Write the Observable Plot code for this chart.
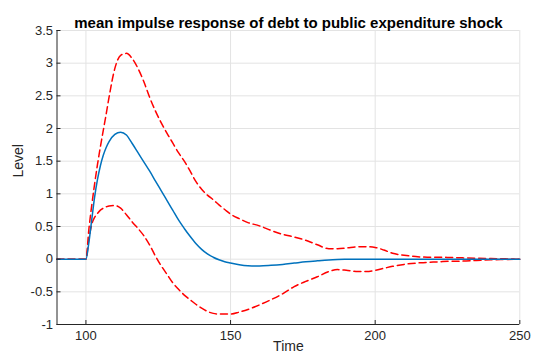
<!DOCTYPE html>
<html>
<head>
<meta charset="utf-8">
<script src="https://cdn.jsdelivr.net/npm/d3@7"></script>
<script src="https://cdn.jsdelivr.net/npm/@observablehq/plot@0.6"></script>
<style>
  html, body { margin: 0; padding: 0; background: #fff; }
  #chart { width: 534px; height: 362px; }
</style>
</head>
<body>
<div id="chart"></div>
<script>
// Impulse response of debt to a public expenditure shock (mean and bands)
const time = [90, 100, 101, 102, 103, 104, 105, 106, 107, 108, 110, 112, 114, 116, 118, 120, 122, 124, 126, 128, 130,
  132, 134, 136, 138, 140, 142, 144, 146, 148, 150, 153, 156, 160, 164, 168, 172, 176, 180, 184, 187,
  190, 194, 197, 200, 203, 206, 210, 214, 218, 222, 226, 230, 235, 240, 245, 250];
const meanResp = [0, 0, 0.25, 0.6, 0.95, 1.22, 1.43, 1.59, 1.71, 1.8, 1.91, 1.944, 1.9, 1.77, 1.63, 1.49, 1.35, 1.2, 1.05, 0.9, 0.75,
  0.6, 0.47, 0.35, 0.24, 0.15, 0.08, 0.03, -0.01, -0.04, -0.06, -0.085, -0.1, -0.105, -0.095, -0.08, -0.06, -0.04, -0.025, -0.012, -0.006,
  -0.002, 0, 0, 0, 0, 0, 0, 0, 0, 0, 0, 0, 0, 0, 0, 0];
const upperBand = [0, 0, 0.45, 0.82, 1.15, 1.45, 1.72, 1.97, 2.22, 2.48, 2.92, 3.12, 3.15, 3.07, 2.92, 2.72, 2.48, 2.27, 2.09, 1.93, 1.78,
  1.63, 1.5, 1.35, 1.19, 1.07, 0.98, 0.91, 0.83, 0.76, 0.69, 0.62, 0.56, 0.51, 0.44, 0.38, 0.34, 0.29, 0.22, 0.16, 0.16,
  0.17, 0.19, 0.19, 0.18, 0.14, 0.09, 0.06, 0.04, 0.03, 0.03, 0.025, 0.02, 0.015, 0.01, 0.005, 0];
const lowerBand = [0, 0, 0.3, 0.53, 0.64, 0.7, 0.75, 0.78, 0.8, 0.815, 0.82, 0.78, 0.68, 0.57, 0.47, 0.36, 0.22, 0.05, -0.1, -0.23, -0.36,
  -0.46, -0.55, -0.62, -0.69, -0.75, -0.8, -0.83, -0.84, -0.84, -0.84, -0.81, -0.77, -0.7, -0.62, -0.53, -0.42, -0.34, -0.27, -0.19, -0.16,
  -0.17, -0.19, -0.19, -0.17, -0.14, -0.11, -0.08, -0.06, -0.05, -0.04, -0.03, -0.03, -0.02, -0.01, -0.005, 0];
const xTicks = [100, 150, 200, 250];
const yTicks = [-1, -0.5, 0, 0.5, 1, 1.5, 2, 2.5, 3, 3.5];

const rows = time.map((t, i) => ({t, mean: meanResp[i], upper: upperBand[i], lower: lowerBand[i]}));

const ink = "#262626";
const gridColor = "#e3e3e3";
const dash = "7,4";

const chart = Plot.plot({
  width: 534,
  height: 362,
  marginLeft: 56.5,
  marginRight: 14.7,
  marginTop: 30,
  marginBottom: 38,
  style: {fontFamily: "'Liberation Sans', Arial, sans-serif", fontSize: "13px", color: ink, background: "#fff"},
  x: {domain: [90, 250]},
  y: {domain: [-1, 3.5]},
  marks: [
    Plot.gridX(xTicks, {stroke: gridColor, strokeOpacity: 1}),
    Plot.gridY(yTicks, {stroke: gridColor, strokeOpacity: 1}),
    Plot.line(rows, {x: "t", y: "upper", stroke: "#ff0000", strokeWidth: 1.5, strokeDasharray: dash, curve: "monotone-x"}),
    Plot.line(rows, {x: "t", y: "lower", stroke: "#ff0000", strokeWidth: 1.5, strokeDasharray: dash, curve: "monotone-x"}),
    Plot.line(rows, {x: "t", y: "mean", stroke: "#0072bd", strokeWidth: 1.5, curve: "monotone-x"}),
    Plot.ruleY([-1], {stroke: ink, strokeWidth: 1}),
    Plot.ruleX([90], {stroke: ink, strokeWidth: 1}),
    Plot.axisX({ticks: xTicks, tickSize: -4, tickPadding: 10, tickFormat: d => String(d), label: null, fontSize: 13, color: ink}),
    Plot.axisY({ticks: yTicks, tickSize: -4, tickPadding: 8, tickFormat: d => String(d), label: null, fontSize: 13, color: ink}),
    Plot.text(["Level"], {frameAnchor: "left", rotate: -90, dx: -38, fontSize: 14, fill: ink}),
    Plot.text(["Time"], {frameAnchor: "bottom", dy: 26, fontSize: 14, fill: ink}),
    Plot.text(["mean impulse response of debt to public expenditure shock"], {frameAnchor: "top", dy: -13, fontSize: 15, fontWeight: "bold", fill: "#000"})
  ]
});
document.getElementById("chart").appendChild(chart);
</script>
</body>
</html>
